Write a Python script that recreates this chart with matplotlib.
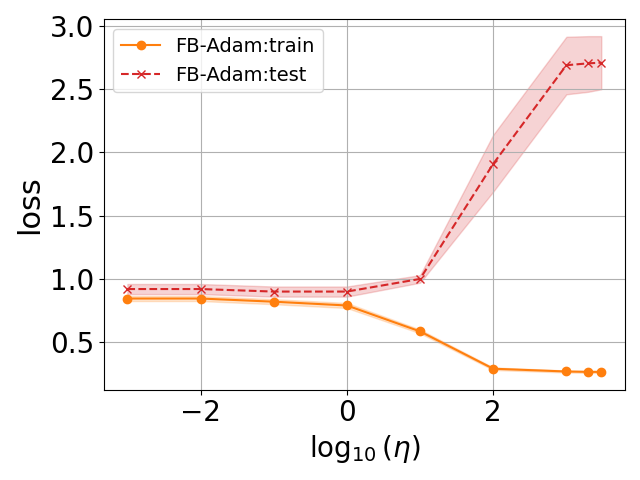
import numpy as np
import matplotlib
matplotlib.use("Agg")
import matplotlib.pyplot as plt

log_eta = np.log10([1e-3, 1e-2, 1e-1, 1, 10, 100, 1000, 2000, 3000])

train_mean = [0.845, 0.845, 0.82, 0.79, 0.585, 0.29, 0.268, 0.265, 0.265]
train_lo = [0.825, 0.825, 0.80, 0.77, 0.57, 0.28, 0.26, 0.257, 0.257]
train_hi = [0.865, 0.865, 0.84, 0.81, 0.60, 0.30, 0.276, 0.273, 0.273]

test_mean = [0.92, 0.92, 0.90, 0.90, 1.0, 1.91, 2.69, 2.705, 2.71]
test_lo = [0.88, 0.88, 0.86, 0.86, 0.97, 1.69, 2.46, 2.48, 2.50]
test_hi = [0.96, 0.96, 0.94, 0.94, 1.03, 2.14, 2.915, 2.92, 2.92]

fig, ax = plt.subplots(figsize=(6.4, 4.8))

ax.plot(log_eta, train_mean, "-o", color="C1", label="FB-Adam:train")
ax.fill_between(log_eta, train_lo, train_hi, color="C1", alpha=0.2)
ax.plot(log_eta, test_mean, "--x", color="C3", label="FB-Adam:test")
ax.fill_between(log_eta, test_lo, test_hi, color="C3", alpha=0.2)

ax.set_xlabel(r"$\log_{10}(\eta)$", fontsize=20)
ax.set_ylabel("loss", fontsize=22)
ax.tick_params(labelsize=20)
ax.grid(True)
ax.legend(fontsize=14, loc="upper left")

plt.tight_layout()
plt.savefig("out.png", dpi=100)
